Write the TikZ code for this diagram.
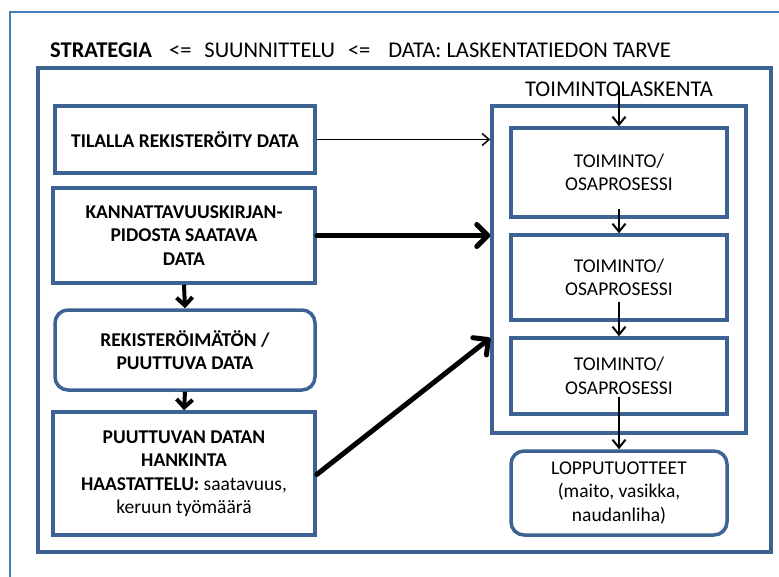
\documentclass[tikz,border=0pt]{standalone}
\usepackage{fontspec}
\setmainfont{Carlito}
\usetikzlibrary{arrows.meta}
\definecolor{frameblue}{RGB}{74,126,187}
\definecolor{boxblue}{RGB}{61,99,146}
\begin{document}
\begin{tikzpicture}[x=1pt,y=-1pt,
  boxstyle/.style={draw=boxblue, line width=3.5pt, fill=white, align=center,
    inner sep=0pt, font=\fontsize{19.5}{23.5}\selectfont},
  boldbox/.style={boxstyle, font=\bfseries\fontsize{19.5}{23.5}\selectfont},
  roundbox/.style={rounded corners=13pt},
  thinarrow/.style={draw=black, line width=1.5pt, -{Straight Barb[length=7pt,width=12pt]}},
  colarrow/.style={draw=black, line width=2pt, -{Straight Barb[length=8pt,width=13pt]}},
  thickarrow/.style={draw=black, line width=5pt, line cap=round, -{Straight Barb[length=11pt,width=22pt,round]}},
  midarrow/.style={draw=black, line width=4pt, -{Straight Barb[length=8pt,width=16pt]}}]
\useasboundingbox (0,0) rectangle (779,576);
\clip (0,0) rectangle (779,576);
% outer thin frame and inner heavy frame
\draw[frameblue, line width=2pt] (10,12) rectangle (800,600);
\draw[boxblue, line width=4pt] (38,68) rectangle (771,552);
% heading
\node[anchor=base west, inner sep=0pt, font=\fontsize{22.5}{27}\selectfont] (title) at (50,57)
  {\textbf{STRATEGIA}\hspace{17pt}<=\hspace{13pt}SUUNNITTELU\hspace{13pt}<=\hspace{18pt}DATA: LASKENTATIEDON TARVE};
% data sources on the left
\node[boldbox, minimum width=260, minimum height=67] (reg) at (185,139.5) {TILALLA REKISTERÖITY DATA};
\node[boldbox, minimum width=262, minimum height=95] (kann) at (184,235.5) {KANNATTAVUUSKIRJAN-\\PIDOSTA SAATAVA\\DATA};
\node[boldbox, roundbox, minimum width=260, minimum height=80] (puut) at (185,350) {REKISTERÖIMÄTÖN /\\PUUTTUVA DATA};
\node[boxstyle, minimum width=262, minimum height=123] (hank) at (184,473.5) {\textbf{PUUTTUVAN DATAN}\\\textbf{HANKINTA}\\\textbf{HAASTATTELU:} saatavuus,\\keruun työmäärä};
% activity-based costing block
\node[draw=boxblue, line width=3.5pt, minimum width=254, minimum height=327, inner sep=0pt] (tl) at (619,269.5) {};
\node[anchor=base, inner sep=0pt, font=\fontsize{22.5}{27}\selectfont] (tltitle) at (619,96) {TOIMINTOLASKENTA};
\node[boxstyle, minimum width=216, minimum height=89] (ta) at (619,172.5) {TOIMINTO/\\OSAPROSESSI};
\node[boxstyle, minimum width=216, minimum height=85] (tb) at (619,277.5) {TOIMINTO/\\OSAPROSESSI};
\node[boxstyle, minimum width=216, minimum height=76] (tc) at (619,376) {TOIMINTO/\\OSAPROSESSI};
\node[boxstyle, roundbox, minimum width=216, minimum height=84] (lopp) at (619,493) {LOPPUTUOTTEET\\(maito, vasikka,\\naudanliha)};
\coordinate (tlin) at (619,86);
% connectors
\draw[thinarrow] (reg.east) -- (reg.east -| tl.west);
\draw[thickarrow] (kann.east) -- (kann.east -| tl.west);
\draw[thickarrow] ([yshift=-1pt]hank.east) -- ([yshift=-68.5pt]tl.west);
\draw[midarrow] (kann.south) -- (puut.north);
\draw[midarrow] (puut.south) -- (hank.north);
\draw[colarrow] (tlin) -- (ta.north);
\draw[colarrow] ([yshift=10pt]ta.south) -- (tb.north);
\draw[colarrow] ([yshift=20pt]tb.south) -- (tc.north);
\draw[colarrow] ([yshift=19pt]tc.south) -- (lopp.north);
\end{tikzpicture}
\end{document}
